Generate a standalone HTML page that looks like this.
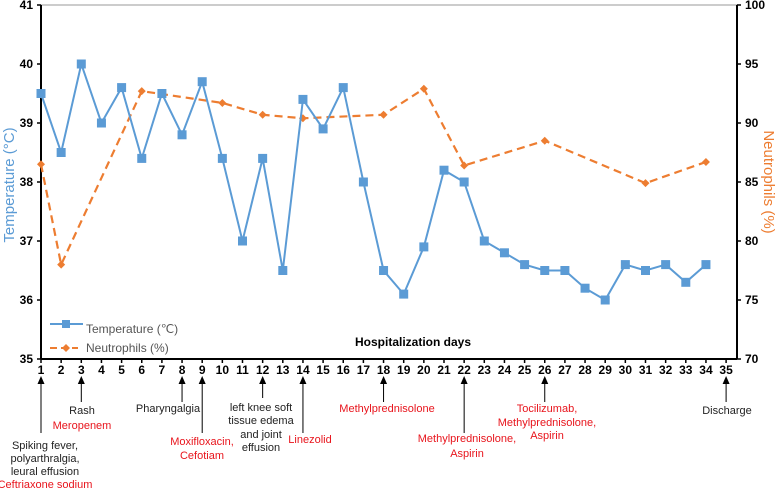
<!DOCTYPE html>
<html><head><meta charset="utf-8"><style>
body{margin:0;background:#fff;}
svg{display:block;font-family:"Liberation Sans",sans-serif;}
</style></head><body>
<svg id="chart" width="778" height="493" viewBox="0 0 778 493" xmlns="http://www.w3.org/2000/svg">
<g id="axes"></g>
<g id="series"></g>
<g id="notes"></g>
<text transform="translate(14,185) rotate(-90)" text-anchor="middle" font-size="15" fill="#5b9bd5">Temperature (°C)</text>
<text transform="translate(764,182) rotate(90)" text-anchor="middle" font-size="15" fill="#ed7d31">Neutrophils (%)</text>
<text x="413" y="346" text-anchor="middle" font-size="12" font-weight="bold">Hospitalization days</text>
<g>
<line x1="50" y1="324" x2="83" y2="324" stroke="#5b9bd5" stroke-width="2"/>
<rect x="62" y="320" width="8" height="8" fill="#5b9bd5"/>
<text x="86" y="333" font-size="12" fill="#555">Temperature (℃)</text>
<line x1="50" y1="348" x2="78" y2="348" stroke="#ed7d31" stroke-width="2" stroke-dasharray="7,4"/>
<path d="M66 344 L70 348 L66 352 L62 348Z" fill="#ed7d31"/>
<text x="86" y="352" font-size="12" fill="#555">Neutrophils (%)</text>
</g>
</svg>
<script>
const days=[1,2,3,4,5,6,7,8,9,10,11,12,13,14,15,16,17,18,19,20,21,22,23,24,25,26,27,28,29,30,31,32,33,34,35];
const tempDays=[1,2,3,4,5,6,7,8,9,10,11,12,13,14,15,16,17,18,19,20,21,22,23,24,25,26,27,28,29,30,31,32,33,34];
const temperature=[39.5,38.5,40,39,39.6,38.4,39.5,38.8,39.7,38.4,37,38.4,36.5,39.4,38.9,39.6,38,36.5,36.1,36.9,38.2,38,37,36.8,36.6,36.5,36.5,36.2,36,36.6,36.5,36.6,36.3,36.6];
const neutDays=[1,2,6,10,12,14,18,20,22,26,31,34];
const neutrophils=[86.5,78,92.7,91.7,90.7,90.4,90.7,92.9,86.4,88.5,84.9,86.7];
const leftTicks=[35,36,37,38,39,40,41];
const rightTicks=[70,75,80,85,90,95,100];
const notes=[
 {day:1,end:433,cx:45,lines:[["Spiking fever,","#222",449],["polyarthralgia,","#222",462],["leural effusion","#222",475],["Ceftriaxone sodium","#e8141c",488]]},
 {day:3,end:402,cx:82,lines:[["Rash","#222",414],["Meropenem","#e8141c",429]]},
 {day:8,end:402,cx:168,lines:[["Pharyngalgia","#222",412]]},
 {day:9,end:433,cx:202,lines:[["Moxifloxacin,","#e8141c",445],["Cefotiam","#e8141c",459]]},
 {day:12,end:398,cx:261,lines:[["left knee soft","#222",411],["tissue edema","#222",424],["and joint","#222",438],["effusion","#222",451]]},
 {day:14,end:433,cx:310,lines:[["Linezolid","#e8141c",443]]},
 {day:18,end:402,cx:387,lines:[["Methylprednisolone","#e8141c",412]]},
 {day:22,end:433,cx:467,lines:[["Methylprednisolone,","#e8141c",442],["Aspirin","#e8141c",457]]},
 {day:26,end:402,cx:547,lines:[["Tocilizumab,","#e8141c",412],["Methylprednisolone,","#e8141c",426],["Aspirin","#e8141c",439]]},
 {day:35,end:402,cx:727,lines:[["Discharge","#222",414]]}
];
const NS="http://www.w3.org/2000/svg";
const X0=41,X1=737,YT=5,YB=359;
const x=d=>41+(d-1)*20.15;
const yL=v=>YB-(v-35)/6*(YB-YT);
const yR=v=>YB-(v-70)/30*(YB-YT);
function mk(tag,attrs,parent,txt){const e=document.createElementNS(NS,tag);for(const k in attrs)e.setAttribute(k,attrs[k]);if(txt!==undefined)e.textContent=txt;parent.appendChild(e);return e;}
const ax=document.getElementById('axes'),se=document.getElementById('series'),no=document.getElementById('notes');
let e;
e=mk('line',{x1:X0,y1:YT,x2:X1,y2:YT,stroke:'#999','stroke-width':1},ax);


e=mk('line',{x1:X0,y1:YT,x2:X0,y2:YB,stroke:'#000','stroke-width':2},ax);


e=mk('line',{x1:X1,y1:YT,x2:X1,y2:YB,stroke:'#000','stroke-width':2},ax);


e=mk('line',{x1:X0,y1:YB,x2:X1,y2:YB,stroke:'#000','stroke-width':2},ax);


leftTicks.forEach(v=>{mk('line',{x1:X0-4,y1:yL(v),x2:X0,y2:yL(v),stroke:'#000','stroke-width':1.5},ax);
 e=mk('text',{x:X0-8,y:yL(v)+4,'text-anchor':'end','font-size':12,'font-weight':'bold'},ax,v);
 
 });
rightTicks.forEach(v=>{mk('line',{x1:X1,y1:yR(v),x2:X1+4,y2:yR(v),stroke:'#000','stroke-width':1.5},ax);
 e=mk('text',{x:X1+8,y:yR(v)+4,'font-size':12,'font-weight':'bold'},ax,v);
 
 });
days.forEach(d=>{mk('line',{x1:x(d),y1:YB,x2:x(d),y2:YB+4,stroke:'#000','stroke-width':1.5},ax);
 e=mk('text',{x:x(d),y:YB+15,'text-anchor':'middle','font-size':12,'font-weight':'bold'},ax,d);
 
 });
e=mk('polyline',{points:neutDays.map((d,i)=>x(d)+','+yR(neutrophils[i])).join(' '),fill:'none',stroke:'#ed7d31','stroke-width':2.2,'stroke-dasharray':'8,5'},se);


neutDays.forEach((d,i)=>{const cx=x(d),cy=yR(neutrophils[i]);
 e=mk('path',{d:`M${cx} ${cy-4}L${cx+4} ${cy}L${cx} ${cy+4}L${cx-4} ${cy}Z`,fill:'#ed7d31'},se);
 
 });
e=mk('polyline',{points:tempDays.map((d,i)=>x(d)+','+yL(temperature[i])).join(' '),fill:'none',stroke:'#5b9bd5','stroke-width':2},se);


tempDays.forEach((d,i)=>{
 e=mk('rect',{x:x(d)-4.5,y:yL(temperature[i])-4.5,width:9,height:9,fill:'#5b9bd5'},se);
 
 });
notes.forEach(n=>{const ax_=x(n.day);
 e=mk('line',{x1:ax_,y1:382,x2:ax_,y2:n.end,stroke:'#000','stroke-width':1},no);
 
 
 mk('path',{d:`M${ax_} 376L${ax_+3.5} 384L${ax_-3.5} 384Z`,fill:'#000'},no);
 n.lines.forEach(l=>{e=mk('text',{x:n.cx,y:l[2],'text-anchor':'middle','font-size':11,fill:l[1]},no,l[0]);
  
  });
});
</script>
</body></html>
